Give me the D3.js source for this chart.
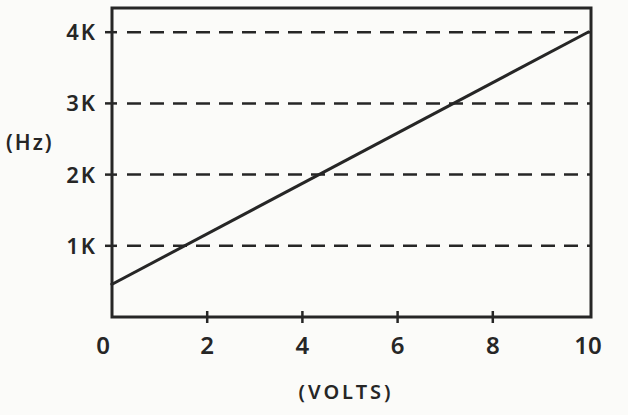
<!DOCTYPE html>
<html>
<head>
<meta charset="utf-8">
<script src="https://cdn.jsdelivr.net/npm/d3@7"></script>
<style>
  html, body { margin: 0; padding: 0; background: #fbfbf9; }
  svg { display: block; }
  text { font-family: "Noto Sans", "Liberation Sans", Arial, sans-serif; font-weight: 600; fill: #262626; }
</style>
</head>
<body>
<svg id="chart" width="628" height="415"></svg>
<script>
// ---- data ----
const xTicks = [0, 2, 4, 6, 8, 10];
const xTickLabels = ["0", "2", "4", "6", "8", "10"];
const yTicks = [1000, 2000, 3000, 4000];
const yTickLabels = ["1K", "2K", "3K", "4K"];
const volts = [0, 10];
const freqHz = [460, 4000];
const xTitle = "(VOLTS)";
const yTitle = "(Hz)";

// ---- layout ----
const plotLeft = 112, plotRight = 588, frameRight = 591, plotTop = 8, plotBottom = 317;
const ink = "#262626";

const svg = d3.select("#chart");
const x = d3.scaleLinear().domain([0, 10]).range([plotLeft, plotRight]);
const y = d3.scaleLinear().domain([0, 4340]).range([plotBottom, plotTop]);

// dashed grid lines
svg.append("g").selectAll("line").data(yTicks).join("line")
  .attr("x1", plotLeft + 15).attr("x2", frameRight)
  .attr("y1", d => y(d)).attr("y2", d => y(d))
  .attr("stroke", ink).attr("stroke-width", 2.5)
  .attr("stroke-dasharray", "14 9");

// y axis ticks (small, crossing the left edge)
svg.append("g").selectAll("line").data(yTicks).join("line")
  .attr("x1", plotLeft - 7).attr("x2", plotLeft + 5)
  .attr("y1", d => y(d)).attr("y2", d => y(d))
  .attr("stroke", ink).attr("stroke-width", 2.5);

// x axis ticks
svg.append("g").selectAll("line").data(xTicks.slice(1, -1)).join("line")
  .attr("x1", d => x(d)).attr("x2", d => x(d))
  .attr("y1", plotBottom - 6).attr("y2", plotBottom + 6)
  .attr("stroke", ink).attr("stroke-width", 2.5);

// frame
svg.append("rect")
  .attr("x", plotLeft).attr("y", plotTop)
  .attr("width", frameRight - plotLeft).attr("height", plotBottom - plotTop)
  .attr("fill", "none").attr("stroke", ink).attr("stroke-width", 3);

// data line
const pts = volts.map((v, i) => [v, freqHz[i]]);
svg.append("path").datum(pts)
  .attr("d", d3.line().x(d => x(d[0])).y(d => y(d[1])))
  .attr("fill", "none").attr("stroke", ink).attr("stroke-width", 3)
  .attr("stroke-linecap", "square");

// y tick labels
svg.append("g").selectAll("text").data(yTicks).join("text")
  .attr("x", 97).attr("y", d => y(d) + 8)
  .attr("text-anchor", "end")
  .style("font-size", "22px").style("letter-spacing", "2px")
  .text((d, i) => yTickLabels[i]);

// x tick labels
svg.append("g").selectAll("text").data(xTicks).join("text")
  .attr("x", (d, i) => x(d) + (i === 0 ? -9 : 0)).attr("y", 354)
  .attr("text-anchor", "middle")
  .style("font-size", "24px")
  .text((d, i) => xTickLabels[i]);

// axis titles
svg.append("text").attr("x", 6).attr("y", 150)
  .style("font-size", "21px").style("letter-spacing", "2px")
  .text(yTitle);
svg.append("text").attr("x", 346).attr("y", 399)
  .attr("text-anchor", "middle")
  .style("font-size", "20px").style("letter-spacing", "3px")
  .text(xTitle);
</script>
</body>
</html>
